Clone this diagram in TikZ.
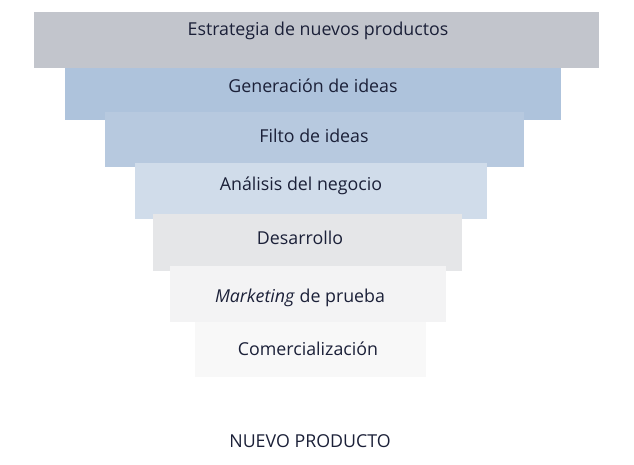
\documentclass[tikz,border=0pt]{standalone}
\usepackage{fontspec}
\setmainfont{Open Sans}
\definecolor{c1}{HTML}{C2C5CC}
\definecolor{c2}{HTML}{AEC3DC}
\definecolor{c3}{HTML}{B7C9DF}
\definecolor{c4}{HTML}{D0DCEA}
\definecolor{c5}{HTML}{E5E6E8}
\definecolor{c6}{HTML}{F3F3F4}
\definecolor{c7}{HTML}{F8F8F8}
\definecolor{txt}{HTML}{1B2038}
\begin{document}
\begin{tikzpicture}[x=1pt,y=-1pt,
  box/.style={draw=none,inner sep=0pt,outer sep=0pt,anchor=north west},
  lbl/.style={text=txt,font=\fontsize{17.8}{20}\selectfont,inner sep=0pt}]
\useasboundingbox (0,0) rectangle (634,465);
\node[box,fill=c2,minimum width=496pt,minimum height=56pt] (b2) at (65,64) {};
\node[box,fill=c3,minimum width=419pt,minimum height=55pt] (b3) at (105,112) {};
\node[box,fill=c1,minimum width=565pt,minimum height=56pt] (b1) at (34,12) {};
\node[box,fill=c4,minimum width=352pt,minimum height=56pt] (b4) at (135,163) {};
\node[box,fill=c5,minimum width=309pt,minimum height=57pt] (b5) at (153,214) {};
\node[box,fill=c6,minimum width=276pt,minimum height=56pt] (b6) at (170,266) {};
\node[box,fill=c7,minimum width=231pt,minimum height=55pt] (b7) at (195,322) {};
\node[lbl] (t1) at (318,31) {Estrategia de nuevos productos};
\node[lbl] (t2) at (313,86) {Generación de ideas};
\node[lbl] (t3) at (314,136) {Filto de ideas};
\node[lbl] (t4) at (301,186) {Análisis del negocio};
\node[lbl] (t5) at (300,238) {Desarrollo};
\node[lbl] (t6) at (300,298) {\textit{Marketing} de prueba};
\node[lbl] (t7) at (308,349) {Comercialización};
\node[lbl] (t8) at (310,441) {NUEVO PRODUCTO};
\end{tikzpicture}
\end{document}
